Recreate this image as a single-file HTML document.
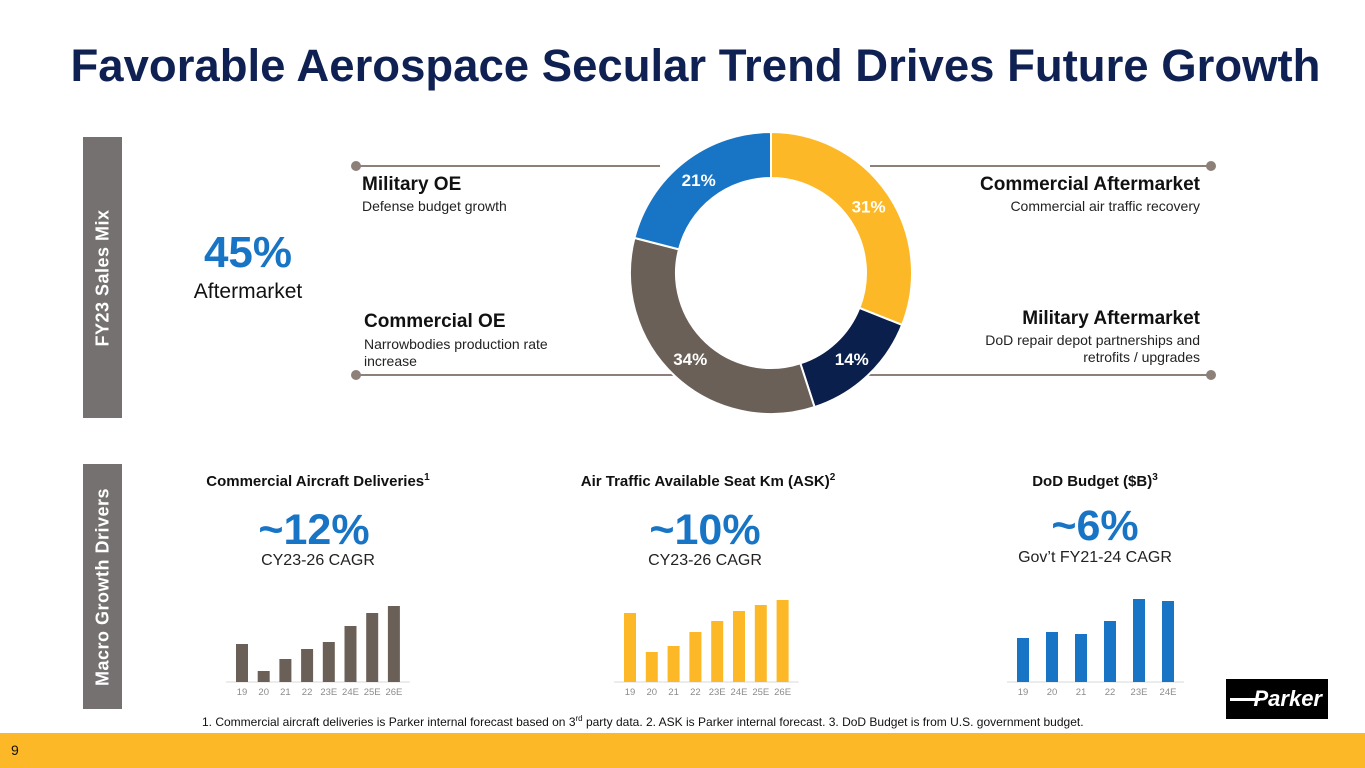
<!DOCTYPE html>
<html><head><meta charset="utf-8"><style>
body{margin:0;width:1365px;height:768px;position:relative;overflow:hidden;background:#fff;font-family:"Liberation Sans",sans-serif;}
.a{position:absolute;}
.side{position:absolute;left:83px;width:39px;background:#767171;}
.side span{position:absolute;left:50%;top:50%;transform:translate(-50%,-50%) rotate(-90deg);white-space:nowrap;color:#fff;font-weight:bold;font-size:18px;letter-spacing:0.5px;}
.h{font-weight:bold;font-size:19px;color:#111;}
.s{font-size:14px;color:#222;line-height:17px;}
.ct{font-weight:bold;font-size:15px;color:#111;text-align:center;width:300px;}
.big{font-weight:bold;font-size:43px;color:#1874c4;text-align:center;width:300px;}
.sub{font-size:16px;color:#222;text-align:center;width:300px;}
</style></head><body>
<div class="a" style="left:13px;width:1365px;text-align:center;top:40px;font-size:45.5px;font-weight:bold;color:#0f2052;">Favorable Aerospace Secular Trend Drives Future Growth</div>
<div class="side" style="top:137px;height:281px;"><span>FY23 Sales Mix</span></div>
<div class="side" style="top:464px;height:245px;"><span>Macro Growth Drivers</span></div>
<div class="a" style="left:98px;width:300px;text-align:center;top:228px;font-size:44px;font-weight:bold;color:#1874c4;">45%</div>
<div class="a" style="left:98px;width:300px;text-align:center;top:280px;font-size:21px;color:#111;">Aftermarket</div>

<svg class="a" style="left:0;top:0" width="1365" height="768">
<g stroke="#8c8079" stroke-width="2" fill="#8c8079">
<line x1="356" y1="166" x2="660" y2="166"/><circle cx="356" cy="166" r="4"/>
<line x1="870" y1="166" x2="1211" y2="166"/><circle cx="1211" cy="166" r="4"/>
<line x1="356" y1="375" x2="700" y2="375"/><circle cx="356" cy="375" r="4"/>
<line x1="840" y1="375" x2="1211" y2="375"/><circle cx="1211" cy="375" r="4"/>
</g>
<g id="donut"></g>
</svg>

<div class="a h" style="left:362px;top:174px;">Military OE</div>
<div class="a s" style="left:362px;top:198px;">Defense budget growth</div>
<div class="a h" style="left:364px;top:311px;">Commercial OE</div>
<div class="a s" style="left:364px;top:336px;width:220px;">Narrowbodies production rate increase</div>
<div class="a h" style="right:165px;top:174px;text-align:right;">Commercial Aftermarket</div>
<div class="a s" style="right:165px;top:198px;text-align:right;">Commercial air traffic recovery</div>
<div class="a h" style="right:165px;top:308px;text-align:right;">Military Aftermarket</div>
<div class="a s" style="right:165px;top:332px;text-align:right;">DoD repair depot partnerships and<br>retrofits / upgrades</div>

<div class="a ct" style="left:168px;top:472px;">Commercial Aircraft Deliveries<sup style="font-size:10px">1</sup></div>
<div class="a big" style="left:164px;top:506px;">~12%</div>
<div class="a sub" style="left:168px;top:552px;">CY23-26 CAGR</div>
<div class="a ct" style="left:558px;top:472px;">Air Traffic Available Seat Km (ASK)<sup style="font-size:10px">2</sup></div>
<div class="a big" style="left:555px;top:506px;">~10%</div>
<div class="a sub" style="left:555px;top:552px;">CY23-26 CAGR</div>
<div class="a ct" style="left:945px;top:472px;">DoD Budget ($B)<sup style="font-size:10px">3</sup></div>
<div class="a big" style="left:945px;top:502px;">~6%</div>
<div class="a sub" style="left:945px;top:549px;">Gov’t FY21-24 CAGR</div>

<svg class="a" style="left:0;top:0" width="1365" height="768" id="bars"></svg>

<div class="a" style="left:1226px;top:679px;width:102px;height:40px;background:#000;color:#fff;font-weight:bold;font-size:22px;line-height:40px;text-align:right;padding-right:6px;box-sizing:border-box;font-style:italic;">
<span style="position:absolute;left:4px;top:19px;width:30px;height:3px;background:#fff;"></span>Parker</div>
<div class="a" style="left:202px;top:714px;font-size:12px;color:#111;">1. Commercial aircraft deliveries is Parker internal forecast based on 3<sup style="font-size:8px">rd</sup> party data. 2. ASK is Parker internal forecast. 3. DoD Budget is from U.S. government budget.</div>
<div class="a" style="left:0;top:733px;width:1365px;height:35px;background:#fdb827;"></div>
<div class="a" style="left:11px;top:742px;font-size:14px;color:#111;">9</div>

<script>
const mixLabels=["31%","14%","34%","21%"];
const mixValues=[31,14,34,21];
const mixColors=["#fdb827","#0b1f4d","#6b6057","#1874c4"];
const c1Cats=["19","20","21","22","23E","24E","25E","26E"];
const c1Vals=[38,11,23,33,40,56,69,76];
const c2Cats=["19","20","21","22","23E","24E","25E","26E"];
const c2Vals=[69,30,36,50,61,71,77,82];
const c3Cats=["19","20","21","22","23E","24E"];
const c3Vals=[44,50,48,61,83,81];
const NS="http://www.w3.org/2000/svg";
(function(){
 const g=document.getElementById('donut');const cx=771,cy=273,R=141,r=95;
 const tot=mixValues.reduce((a,b)=>a+b,0);let a0=0;
 mixValues.forEach((v,i)=>{
  const a1=a0+v/tot*2*Math.PI;
  const p=(rad,ang)=>[cx+rad*Math.sin(ang),cy-rad*Math.cos(ang)];
  const [x1,y1]=p(R,a0),[x2,y2]=p(R,a1),[x3,y3]=p(r,a1),[x4,y4]=p(r,a0);
  const lg=(a1-a0)>Math.PI?1:0;
  const path=document.createElementNS(NS,'path');
  path.setAttribute('d',`M${x1},${y1}A${R},${R} 0 ${lg} 1 ${x2},${y2}L${x3},${y3}A${r},${r} 0 ${lg} 0 ${x4},${y4}Z`);
  path.setAttribute('fill',mixColors[i]);path.setAttribute('stroke','#fff');path.setAttribute('stroke-width','2');
  
  
  g.appendChild(path);
  const am=(a0+a1)/2;let [lx,ly]=p(118,am);
  const t=document.createElementNS(NS,'text');
  t.setAttribute('x',lx);t.setAttribute('y',ly+6);t.setAttribute('text-anchor','middle');
  t.setAttribute('font-size','17');t.setAttribute('font-weight','bold');t.setAttribute('fill','#fff');
  t.setAttribute('font-family','Liberation Sans, sans-serif');t.textContent=mixLabels[i];
  
  
  g.appendChild(t);a0=a1;
 });
})();
function chart(cats,vals,color,x0,step,scale){
 const svg=document.getElementById('bars');const base=682;
 const ax=document.createElementNS(NS,'line');
 ax.setAttribute('x1',x0-10);ax.setAttribute('x2',x0+step*(cats.length-1)+22);ax.setAttribute('y1',base);ax.setAttribute('y2',base);ax.setAttribute('stroke','#d9d9d9');
 
 
 svg.appendChild(ax);
 cats.forEach((c,i)=>{
  const h=vals[i]*scale,x=x0+i*step;
  const b=document.createElementNS(NS,'rect');
  b.setAttribute('x',x);b.setAttribute('y',base-h);b.setAttribute('width',12);b.setAttribute('height',h);b.setAttribute('fill',color);
  
  
  svg.appendChild(b);
  const t=document.createElementNS(NS,'text');
  t.setAttribute('x',x+6);t.setAttribute('y',base+13);t.setAttribute('text-anchor','middle');t.setAttribute('font-size','9.5');t.setAttribute('fill','#8c8c8c');t.setAttribute('font-family','Liberation Sans, sans-serif');
  t.textContent=c;
  
  
  svg.appendChild(t);
 });
}
chart(c1Cats,c1Vals,'#6b6057',236,21.7,1);
chart(c2Cats,c2Vals,'#fdb827',624,21.8,1);
chart(c3Cats,c3Vals,'#1874c4',1017,29,1);
</script>
</body></html>
